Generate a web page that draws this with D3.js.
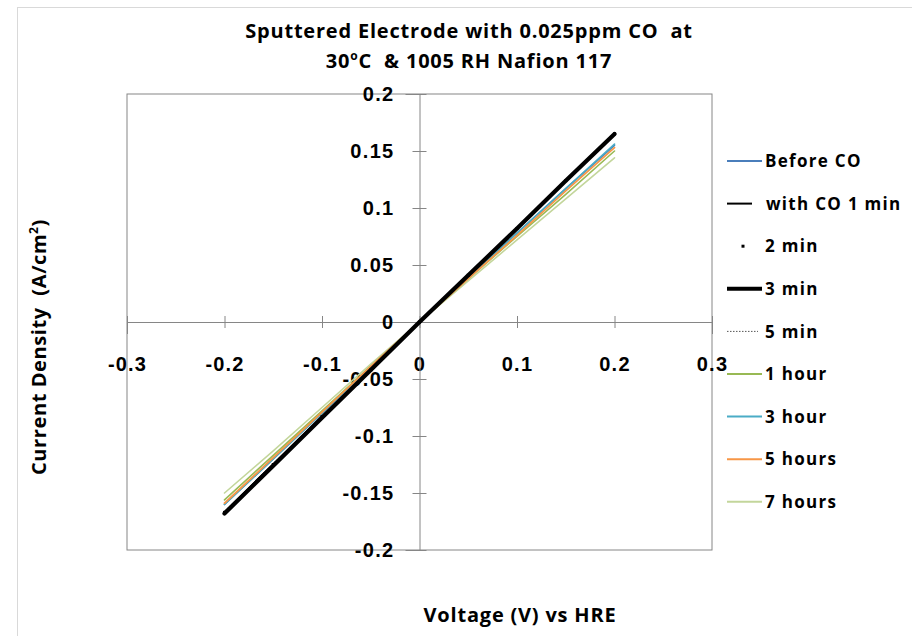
<!DOCTYPE html>
<html>
<head>
<meta charset="utf-8">
<script src="https://cdn.jsdelivr.net/npm/d3@7"></script>
<style>
  body { margin: 0; background: #fff; }
  svg { font-family: "Open Sans", Lato, sans-serif; }
  svg text { white-space: pre; }
</style>
</head>
<body>
<div id="chart"></div>
<script>
// voltages (V) and current densities (A/cm2)
const voltages = [-0.2, -0.15, -0.1, -0.05, 0, 0.05, 0.1, 0.15, 0.2];

const beforeCO = [-0.160, -0.120, -0.080, -0.040, 0, 0.039, 0.078, 0.117, 0.155];
const withCO1min = [-0.167, -0.125, -0.083, -0.042, 0, 0.041, 0.082, 0.124, 0.165];
const min2 = [-0.167, -0.125, -0.083, -0.042, 0, 0.041, 0.082, 0.124, 0.165];
const min3 = [-0.168, -0.126, -0.084, -0.042, 0, 0.041, 0.082, 0.124, 0.165];
const min5 = [-0.166, -0.124, -0.083, -0.041, 0, 0.041, 0.082, 0.123, 0.164];
const hour1 = [-0.156, -0.117, -0.078, -0.039, 0, 0.038, 0.075, 0.112, 0.150];
const hour3 = [-0.160, -0.120, -0.080, -0.040, 0, 0.039, 0.078, 0.117, 0.156];
const hours5 = [-0.159, -0.119, -0.079, -0.039, 0, 0.038, 0.076, 0.115, 0.153];
const hours7 = [-0.150, -0.113, -0.075, -0.037, 0, 0.036, 0.072, 0.108, 0.144];

const seriesNames = ["Before CO", "with CO 1 min", "2 min", "3 min", "5 min", "1 hour", "3 hour", "5 hours", "7 hours"];
const seriesValues = [beforeCO, withCO1min, min2, min3, min5, hour1, hour3, hours5, hours7];

const xTicks = [-0.3, -0.2, -0.1, 0, 0.1, 0.2, 0.3];
const yTicks = [-0.2, -0.15, -0.1, -0.05, 0, 0.05, 0.1, 0.15, 0.2];

// drawing styles per series
const styles = [
  { color: "#4a7ebb", width: 1.6, dash: null, line: true },
  { color: "#000000", width: 2.2, dash: null, line: true },
  { color: "#000000", width: 0, dash: null, line: false },
  { color: "#000000", width: 4.2, dash: null, line: true },
  { color: "#555555", width: 1, dash: "1.5,1.5", line: true },
  { color: "#98b954", width: 1.6, dash: null, line: true },
  { color: "#4bacc6", width: 1.6, dash: null, line: true },
  { color: "#f79646", width: 1.8, dash: null, line: true },
  { color: "#c3d69b", width: 1.6, dash: null, line: true }
];
// draw order: lighter lines first, the black ones on top
const drawOrder = [8, 5, 0, 6, 7, 4, 1, 2, 3];

const width = 912, height = 636;
const svg = d3.select("#chart").append("svg")
  .attr("width", width)
  .attr("height", height);

// outer chart border
svg.append("rect")
  .attr("x", 17.5).attr("y", 7.5)
  .attr("width", 900).attr("height", 640)
  .attr("fill", "none")
  .attr("stroke", "#d9d9d9");

const x = d3.scaleLinear().domain([-0.3, 0.3]).range([127, 712]);
const y = d3.scaleLinear().domain([-0.2, 0.2]).range([550, 94]);

// plot area border
svg.append("rect")
  .attr("x", x(-0.3)).attr("y", y(0.2))
  .attr("width", x(0.3) - x(-0.3)).attr("height", y(-0.2) - y(0.2))
  .attr("fill", "none")
  .attr("stroke", "#868686")
  .attr("stroke-width", 1);

const fmt = d => String(+d.toFixed(2));

// x axis through y = 0
const xAxis = svg.append("g")
  .attr("transform", `translate(0,${y(0)})`)
  .call(d3.axisBottom(x).tickValues(xTicks).tickSize(12).tickFormat(fmt));
xAxis.select(".domain").attr("stroke", "#868686");
xAxis.selectAll(".tick line").attr("stroke", "#868686").attr("transform", "translate(0,-6)");
xAxis.selectAll(".tick text")
  .attr("y", 42)
  .attr("dy", "0.36em")
  .attr("fill", "#000")
  .style("font-size", "20px")
  .style("letter-spacing", "1.2px")
  .style("font-weight", "bold");

// y axis through x = 0
const yAxis = svg.append("g")
  .attr("transform", `translate(${x(0)},0)`)
  .call(d3.axisLeft(y).tickValues(yTicks).tickSize(14).tickFormat(fmt));
yAxis.select(".domain").attr("stroke", "#868686");
yAxis.selectAll(".tick line").attr("stroke", "#868686").attr("transform", "translate(7,0)");
yAxis.selectAll(".tick text")
  .attr("x", -25)
  .attr("fill", "#000")
  .style("font-size", "20px")
  .style("letter-spacing", "1.3px")
  .style("font-weight", "bold");

// series
const line = d3.line()
  .x((d, i) => x(voltages[i]))
  .y(d => y(d));

drawOrder.forEach(k => {
  const s = styles[k];
  if (s.line) {
    svg.append("path")
      .datum(seriesValues[k])
      .attr("d", line)
      .attr("fill", "none")
      .attr("stroke", s.color)
      .attr("stroke-width", s.width)
      .attr("stroke-dasharray", s.dash)
      .attr("stroke-linecap", "round");
  } else {
    svg.append("g").selectAll("rect")
      .data(seriesValues[k])
      .enter().append("rect")
      .attr("x", (d, i) => x(voltages[i]) - 1.5)
      .attr("y", d => y(d) - 1.5)
      .attr("width", 3).attr("height", 3)
      .attr("fill", s.color);
  }
});

// legend
const legend = svg.append("g").attr("transform", "translate(727,161)");
seriesNames.forEach((name, i) => {
  const s = styles[i];
  const g = legend.append("g").attr("transform", `translate(0,${i * 42.6})`);
  if (s.line) {
    const x2 = i === 1 ? 25 : (i === 4 ? 31 : 35);
    g.append("line")
      .attr("x1", 0).attr("x2", x2)
      .attr("y1", 0).attr("y2", 0)
      .attr("stroke", s.color)
      .attr("stroke-width", i === 3 ? 4 : (i === 4 ? 1 : 2))
      .attr("stroke-dasharray", s.dash);
  } else {
    g.append("rect")
      .attr("x", 14.5).attr("y", -1.5)
      .attr("width", 3).attr("height", 3)
      .attr("fill", s.color);
  }
  g.append("text")
    .attr("x", i === 1 ? 39 : 38)
    .attr("y", 0)
    .attr("dy", "0.36em")
    .style("font-size", "17px")
    .style("letter-spacing", "1.3px")
    .style("font-weight", "bold")
    .text(name);
});

// title
const title = svg.append("text")
  .attr("text-anchor", "middle")
  .style("font-size", "20px")
  .style("letter-spacing", "0.8px")
  .style("font-weight", "bold");
title.append("tspan").attr("x", 469).attr("y", 38).text("Sputtered Electrode with 0.025ppm CO  at");
const t2 = title.append("tspan").attr("x", 469).attr("y", 68);
t2.append("tspan").text("30");
t2.append("tspan").attr("dy", -8).style("font-size", "12px").text("o");
t2.append("tspan").attr("dy", 8).text("C  & 1005 RH Nafion 117");

// axis titles
svg.append("text")
  .attr("x", 520).attr("y", 622)
  .attr("text-anchor", "middle")
  .style("font-size", "20px")
  .style("letter-spacing", "0.8px")
  .style("font-weight", "bold")
  .text("Voltage (V) vs HRE");

const yt = svg.append("text")
  .attr("transform", "translate(46,347) rotate(-90)")
  .attr("text-anchor", "middle")
  .style("font-size", "20px")
  .style("letter-spacing", "0.6px")
  .style("font-weight", "bold");
yt.append("tspan").text("Current Density  (A/cm");
yt.append("tspan").attr("dy", -8).style("font-size", "12px").text("2");
yt.append("tspan").attr("dy", 8).text(")");
</script>
</body>
</html>
